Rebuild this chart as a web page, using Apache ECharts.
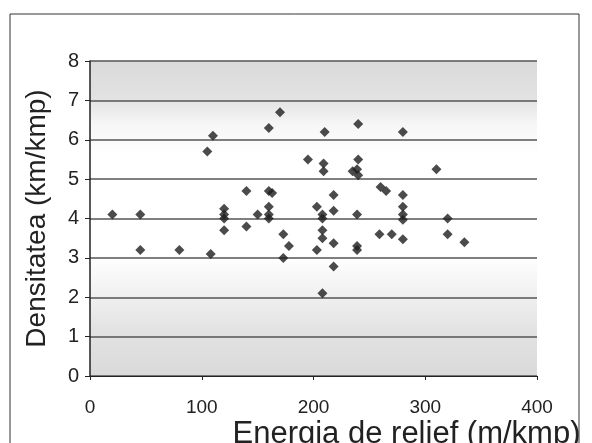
<!DOCTYPE html>
<html>
<head>
<meta charset="utf-8">
<script src="https://cdn.jsdelivr.net/npm/echarts@6/dist/echarts.min.js"></script>
<style>html,body{margin:0;padding:0;background:#fff}#c{width:592px;height:443px}</style>
</head>
<body>
<div id="c"></div>
<script>
var xTitle = 'Energia de relief (m/kmp)';
var yTitle = 'Densitatea (km/kmp)';
var energy = [20,45,45,80,105,110,108,120,120,120,120,140,140,150,160,170,163,160,160,160,160,173,173,178,195,203,203,210,209,209,208,208,208,208,208,218,218,218,218,240,240,239,235,240,239,239,239,260,265,259,270,280,280,280,280,280,280,310,320,320,335];
var density = [4.1,4.1,3.2,3.2,5.7,6.1,3.1,4.25,4.1,4.0,3.7,4.7,3.8,4.1,6.3,6.7,4.65,4.7,4.3,4.1,4.0,3.6,3.0,3.3,5.5,4.3,3.2,6.2,5.4,5.2,4.1,4.0,3.7,3.5,2.1,4.6,4.2,3.37,2.78,6.4,5.5,5.25,5.2,5.1,4.1,3.3,3.2,4.8,4.7,3.6,3.6,6.2,4.6,4.3,4.1,3.97,3.47,5.25,4.0,3.6,3.4];
var points = energy.map(function(e,i){return [e, density[i]];});
var chart = echarts.init(document.getElementById('c'));
chart.setOption({
  animation:false,
  backgroundColor:'#fff',
  graphic:[{type:'rect',shape:{x:10,y:14,width:569,height:450},style:{fill:'none',stroke:'#333',lineWidth:1}}],
  grid:{left:90,right:55,top:61,bottom:67,show:true,borderWidth:0,containLabel:false,outerBoundsMode:'none',
    backgroundColor:new echarts.graphic.LinearGradient(0,0,0,1,[
      {offset:0,color:'#dadada'},{offset:0.12,color:'#e2e2e2'},{offset:0.2,color:'#f6f6f6'},
      {offset:0.3,color:'#ffffff'},{offset:0.62,color:'#ffffff'},{offset:0.72,color:'#f3f3f3'},{offset:0.85,color:'#e3e3e3'},{offset:1,color:'#dadada'}])},
  xAxis:{type:'value',min:0,max:400,interval:100,
    name:xTitle,nameLocation:'middle',nameGap:43,nameMoveOverlap:false,
    nameTextStyle:{fontFamily:'Liberation Sans, Arial',fontSize:31,color:'#222',align:'center',verticalAlign:'top',padding:[0,0,0,186]},
    axisLine:{show:true,lineStyle:{color:'#222',width:1}},
    axisTick:{show:true,length:4,lineStyle:{color:'#222'}},
    axisLabel:{fontFamily:'Liberation Sans, Arial',fontSize:19,color:'#222',margin:22},
    splitLine:{show:false}},
  yAxis:{type:'value',min:0,max:8,interval:1,
    name:yTitle,nameLocation:'middle',nameGap:39,nameMoveOverlap:false,
    nameTextStyle:{fontFamily:'Liberation Sans, Arial',fontSize:28,color:'#222'},
    axisLine:{show:true,lineStyle:{color:'#222',width:1.5}},
    axisTick:{show:true,length:5,lineStyle:{color:'#222'}},
    axisLabel:{fontFamily:'Liberation Sans, Arial',fontSize:20,color:'#222',margin:11},
    splitLine:{show:true,lineStyle:{color:'#555',width:1.5}}},
  series:[{type:'scatter',data:points,symbol:'diamond',symbolSize:10,itemStyle:{color:'#1e1e1e'}}]
});
</script>
</body>
</html>
